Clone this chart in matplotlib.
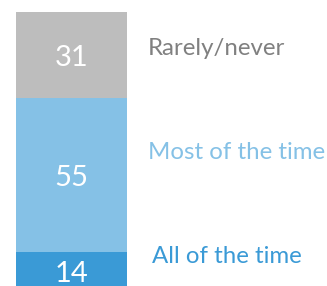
import matplotlib
matplotlib.use("Agg")
import matplotlib.pyplot as plt

categories = ["All of the time", "Most of the time", "Rarely/never"]
values = [14, 55, 31]
colors = ["#3a9ad6", "#85c1e6", "#bdbdbd"]
label_colors = ["#3a9ad6", "#85c1e6", "#808080"]

plt.rcParams['font.family'] = ['Lato', 'DejaVu Sans']

W, H = 327, 286
fig = plt.figure(figsize=(W / 100, H / 100), dpi=100)
ax = fig.add_axes([16 / W, 0, 111 / W, 274 / H])
ax.set_xlim(-0.5, 0.5)
ax.set_ylim(1.8, 100)
ax.axis('off')

bottom = 0
label_offsets = [1.8, 19.5, 13]  # label distance below segment top, in data units
label_x = [0.725, 0.69, 0.69]
number_offsets = [-0.9, -1.1, -1.1]
for i, (cat, v) in enumerate(zip(categories, values)):
    ax.bar(0, v, width=1.0, bottom=bottom, color=colors[i], linewidth=0)
    ax.text(0, bottom + v / 2 + number_offsets[i], str(v), ha='center', va='center',
            color='white', fontsize=21, clip_on=False)
    ax.text(label_x[i], bottom + v - label_offsets[i], cat, ha='left', va='center',
            color=label_colors[i], fontsize=17.3, clip_on=False)
    bottom += v

fig.savefig("out.png", dpi=100)
